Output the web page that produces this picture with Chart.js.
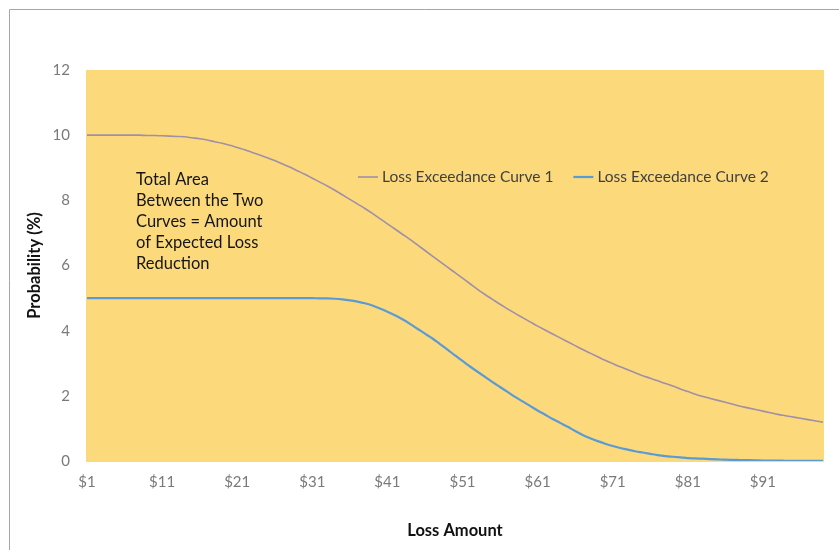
<!DOCTYPE html>
<html>
<head>
<meta charset="utf-8">
<script src="https://cdn.jsdelivr.net/npm/chart.js@4/dist/chart.umd.min.js"></script>
<style>
  html, body { margin: 0; padding: 0; background: #ffffff; }
  #wrap { position: relative; width: 839px; height: 550px; }
</style>
</head>
<body>
<div id="wrap"><canvas id="chart" width="839" height="550"></canvas></div>
<script>
// Loss amounts $1 .. $99
const lossAmounts = Array.from({ length: 99 }, (_, i) => '$' + (i + 1));

// Probability of exceeding each loss amount (%)
const curve1 = [
  10.00, 10.00, 10.00, 10.00, 10.00, 10.00, 10.00, 10.00, 9.99, 9.99,
  9.98, 9.97, 9.96, 9.95, 9.92, 9.89, 9.85, 9.80, 9.75, 9.69,
  9.62, 9.55, 9.47, 9.39, 9.31, 9.22, 9.12, 9.02, 8.91, 8.80,
  8.68, 8.56, 8.44, 8.31, 8.17, 8.03, 7.89, 7.75, 7.60, 7.44,
  7.28, 7.12, 6.96, 6.80, 6.63, 6.46, 6.29, 6.12, 5.95, 5.78,
  5.61, 5.44, 5.27, 5.11, 4.96, 4.81, 4.67, 4.53, 4.40, 4.27,
  4.14, 4.02, 3.90, 3.78, 3.66, 3.54, 3.42, 3.31, 3.20, 3.09,
  2.99, 2.89, 2.80, 2.71, 2.62, 2.54, 2.46, 2.38, 2.30, 2.21,
  2.13, 2.05, 1.98, 1.92, 1.86, 1.80, 1.74, 1.68, 1.63, 1.58,
  1.53, 1.48, 1.43, 1.39, 1.35, 1.31, 1.27, 1.23, 1.19
];
const curve2 = [
  5.00, 5.00, 5.00, 5.00, 5.00, 5.00, 5.00, 5.00, 5.00, 5.00,
  5.00, 5.00, 5.00, 5.00, 5.00, 5.00, 5.00, 5.00, 5.00, 5.00,
  5.00, 5.00, 5.00, 5.00, 5.00, 5.00, 5.00, 5.00, 5.00, 5.00,
  5.00, 4.99, 4.99, 4.98, 4.96, 4.93, 4.89, 4.84, 4.77, 4.68,
  4.58, 4.47, 4.35, 4.21, 4.06, 3.91, 3.76, 3.59, 3.42, 3.24,
  3.07, 2.90, 2.74, 2.58, 2.42, 2.27, 2.12, 1.97, 1.83, 1.69,
  1.55, 1.42, 1.29, 1.17, 1.05, 0.92, 0.80, 0.70, 0.61, 0.53,
  0.46, 0.40, 0.35, 0.30, 0.26, 0.22, 0.18, 0.15, 0.13, 0.11,
  0.09, 0.08, 0.07, 0.06, 0.05, 0.04, 0.035, 0.03, 0.025, 0.02,
  0.015, 0.012, 0.01, 0.008, 0.006, 0.005, 0.004, 0.003, 0.002
];

const seriesNames = ['Loss Exceedance Curve 1', 'Loss Exceedance Curve 2'];
const noteLines = ['Total Area', 'Between the Two', 'Curves = Amount', 'of Expected Loss', 'Reduction'];

const FONT = 'Lato, "Open Sans", "Liberation Sans", sans-serif';
const PLOT_FILL = 'rgb(252, 218, 124)';

// Frame, plot background, in-plot legend and note
const decor = {
  id: 'decor',
  beforeDraw(chart) {
    const { ctx, chartArea: a } = chart;
    ctx.save();
    ctx.fillStyle = '#ffffff';
    ctx.fillRect(0, 0, chart.width, chart.height);
    ctx.strokeStyle = '#a6a6a6';
    ctx.lineWidth = 1;
    ctx.beginPath();
    ctx.moveTo(9.5, chart.height + 2);
    ctx.lineTo(9.5, 9.5);
    ctx.lineTo(chart.width + 2, 9.5);
    ctx.stroke();
    ctx.fillStyle = PLOT_FILL;
    ctx.fillRect(a.left - 1, a.top, a.right - a.left + 2, a.bottom - a.top + 1);
    ctx.restore();
  },
  afterDatasetsDraw(chart) {
    const { ctx, chartArea: a } = chart;
    ctx.save();
    ctx.textBaseline = 'middle';
    ctx.textAlign = 'left';
    // legend
    ctx.font = '15.5px ' + FONT;
    let x = a.left + 271;
    const y = a.top + 107;
    chart.data.datasets.forEach(ds => {
      ctx.strokeStyle = ds.borderColor;
      ctx.lineWidth = ds.borderWidth;
      ctx.beginPath();
      ctx.moveTo(x, y);
      ctx.lineTo(x + 20, y);
      ctx.stroke();
      ctx.fillStyle = '#404040';
      ctx.fillText(ds.label, x + 24, y);
      x += 24 + ctx.measureText(ds.label).width + 20;
    });
    // note
    ctx.font = '16.5px ' + FONT;
    ctx.fillStyle = '#151515';
    noteLines.forEach((t, i) => ctx.fillText(t, a.left + 49, a.top + 110 + i * 21));
    ctx.restore();
  }
};

new Chart(document.getElementById('chart'), {
  type: 'line',
  data: {
    labels: lossAmounts,
    datasets: [
      {
        label: seriesNames[0],
        data: curve1,
        borderColor: '#a08fa8',
        borderWidth: 1.6,
        pointRadius: 0,
        cubicInterpolationMode: 'monotone',
        fill: false
      },
      {
        label: seriesNames[1],
        data: curve2,
        borderColor: '#5b9bd5',
        borderWidth: 2.2,
        pointRadius: 0,
        cubicInterpolationMode: 'monotone',
        fill: false
      }
    ]
  },
  options: {
    responsive: false,
    animation: false,
    events: [],
    layout: { padding: { left: 0, right: 16, top: 70, bottom: 0 } },
    plugins: { legend: { display: false }, tooltip: { enabled: false } },
    scales: {
      x: {
        offset: false,
        grid: { display: false, drawTicks: false },
        border: { display: false },
        ticks: {
          autoSkip: false,
          maxRotation: 0,
          minRotation: 0,
          padding: 12,
          color: '#7a7a7a',
          font: { family: FONT, size: 15 },
          callback: function (v, i) { return i % 10 === 0 ? this.getLabelForValue(v) : null; }
        },
        title: {
          display: true,
          text: 'Loss Amount',
          color: '#111111',
          font: { family: FONT, size: 16.5, weight: 'bold' },
          padding: { top: 0, bottom: 9 }
        },
        afterFit(s) { s.height = 89; }
      },
      y: {
        min: 0,
        max: 12,
        grid: { display: false, drawTicks: false },
        border: { display: false },
        ticks: {
          stepSize: 2,
          padding: 17,
          color: '#7a7a7a',
          font: { family: FONT, size: 15 }
        },
        title: {
          display: true,
          text: 'Probability (%)',
          color: '#111111',
          font: { family: FONT, size: 16.5, weight: 'bold' },
          padding: { top: 25, bottom: 0 }
        },
        afterFit(s) { s.width = 87; }
      }
    }
  },
  plugins: [decor]
});
</script>
</body>
</html>
